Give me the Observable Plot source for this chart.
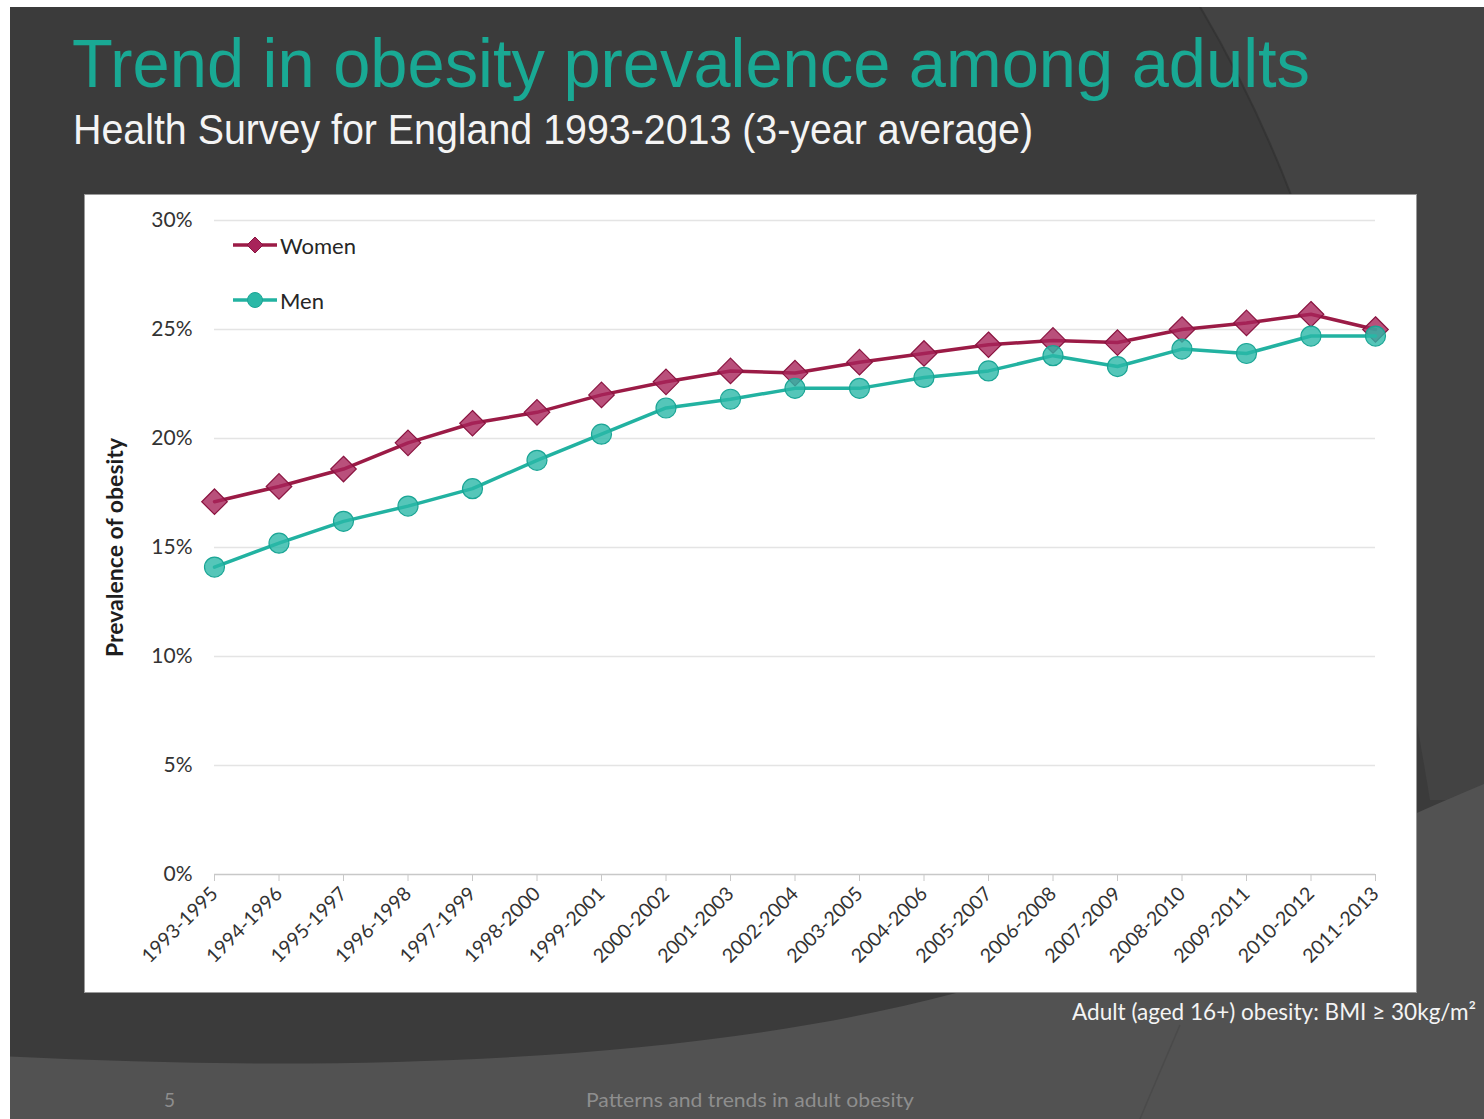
<!DOCTYPE html>
<html>
<head>
<meta charset="utf-8">
<script src="https://cdn.jsdelivr.net/npm/d3@7"></script>
<script src="https://cdn.jsdelivr.net/npm/@observablehq/plot@0.6"></script>
<style>
  html, body { margin: 0; padding: 0; background: #ffffff; width: 1484px; height: 1119px; overflow: hidden; }
  #slide { position: absolute; left: 10px; top: 7px; width: 1474px; height: 1112px; background: #3b3b3b; overflow: hidden; }
  #bg { position: absolute; left: -10px; top: -7px; width: 1484px; height: 1119px; }
  .fit { position: absolute; white-space: nowrap; display: inline-block; transform-origin: 0 0; line-height: 1; }
  #title { left: 62px; top: 22px; font-family: "Liberation Sans", Arial, sans-serif; font-size: 68px; color: #19a994; }
  #subtitle { left: 63px; top: 101px; font-family: "Liberation Sans", Arial, sans-serif; font-size: 43px; color: #f4f4f4; }
  #chartbox { position: absolute; left: 75px; top: 188px; width: 1331px; height: 797px; background: #fff; box-shadow: 0 0 0 1px #9a9a9a; }
  #legend { position: absolute; left: 148px; top: 37px; font-family: Lato, sans-serif; font-size: 22px; color: #262626; }
  .lg { display: flex; align-items: center; height: 26px; margin-bottom: 29px; }
  .lg svg { display: block; margin-right: 3px; }
  #caption { left: 1062px; top: 992px; font-family: Lato, sans-serif; font-size: 24px; color: #f4f4f4; }
  #pagenum { left: 154px; top: 1083px; font-family: Lato, sans-serif; font-size: 19px; color: #8e8e8e; }
  #footer { left: 576px; top: 1083px; font-family: Lato, sans-serif; font-size: 19px; color: #8e8e8e; }
</style>
</head>
<body>
<div id="slide">
  <svg id="bg" viewBox="0 0 1484 1119">
    <path d="M1196,0 C1250,90 1300,200 1335,330 C1370,470 1400,620 1430,800 L1484,800 L1484,0 Z" fill="#434343"/>
    <path d="M1196,0 C1250,90 1300,200 1335,330" fill="none" stroke="#2e2e2e" stroke-width="2" opacity="0.6"/>
    <path d="M0,1056 C350,1074 700,1062 960,992 S1300,860 1484,784 L1484,1119 L0,1119 Z" fill="#525252"/>
    <path d="M1180,1025 C1165,1060 1152,1090 1140,1119" fill="none" stroke="#4a4a4a" stroke-width="1.5"/>
  </svg>
  <div id="title" class="fit" data-w="1238">Trend in obesity prevalence among adults</div>
  <div id="subtitle" class="fit" data-w="960">Health Survey for England 1993-2013 (3-year average)</div>
  <div id="chartbox">
    <div id="chart"></div>
    <div id="legend"></div>
  </div>
  <div id="caption" class="fit" data-w="404">Adult (aged 16+) obesity: BMI ≥ 30kg/m²</div>
  <div id="pagenum" class="fit">5</div>
  <div id="footer" class="fit" data-w="328">Patterns and trends in adult obesity</div>
</div>
<script>
// ---- data ----
const periods = ["1993-1995","1994-1996","1995-1997","1996-1998","1997-1999","1998-2000","1999-2001","2000-2002","2001-2003","2002-2004","2003-2005","2004-2006","2005-2007","2006-2008","2007-2009","2008-2010","2009-2011","2010-2012","2011-2013"];
const women = [17.1, 17.8, 18.6, 19.8, 20.7, 21.2, 22.0, 22.6, 23.1, 23.0, 23.5, 23.9, 24.3, 24.5, 24.4, 25.0, 25.3, 25.7, 25.0];
const men   = [14.1, 15.2, 16.2, 16.9, 17.7, 19.0, 20.2, 21.4, 21.8, 22.3, 22.3, 22.8, 23.1, 23.8, 23.3, 24.1, 23.9, 24.7, 24.7];
const yTicks = [0, 5, 10, 15, 20, 25, 30];
const seriesNames = ["Women", "Men"];
const yLabel = "Prevalence of obesity";

const colors = { Women: { line: "#9b1b46", fill: "#a8245a", edge: "#8a1440" },
                 Men:   { line: "#22b2a1", fill: "#2bb8a7", edge: "#1aa595" } };

const womenRows = periods.map((p, i) => ({ period: p, value: women[i] }));
const menRows = periods.map((p, i) => ({ period: p, value: men[i] }));

const chart = Plot.plot({
  width: 1331,
  height: 797,
  marginLeft: 129,
  marginRight: 41,
  marginTop: 25,
  marginBottom: 118,
  style: { background: "#ffffff", fontFamily: "Lato, sans-serif", overflow: "visible" },
  x: { type: "point", domain: periods, padding: 0, round: false, label: null },
  y: { domain: [0, 30], label: null },
  marks: [
    Plot.gridY(yTicks.filter(t => t > 0), { stroke: "#e4e4e4", strokeOpacity: 1, strokeWidth: 1.5 }),
    Plot.ruleY([0], { stroke: "#c8c8c8", strokeWidth: 1.5 }),
    Plot.axisY(yTicks, { tickSize: 0, tickPadding: 22, tickFormat: d => d + "%", fontSize: 21, fill: "#333333", label: null }),
    Plot.axisX({ tickSize: 7, stroke: "#c8c8c8", strokeOpacity: 1, tickRotate: -45, tickPadding: 9, fontSize: 19.5, fill: "#333333", label: null }),
    Plot.text([yLabel], { text: d => d, frameAnchor: "left", textAnchor: "middle", rotate: -90, dx: -99, fontWeight: "bold", fontSize: 23, fill: "#1e1e1e" }),
    Plot.line(womenRows, { x: "period", y: "value", stroke: colors.Women.line, strokeWidth: 3.5 }),
    Plot.dot(womenRows, { x: "period", y: "value", symbol: "diamond2", r: 11.5, fill: colors.Women.fill, fillOpacity: 0.8, stroke: colors.Women.edge, strokeWidth: 1.2 }),
    Plot.line(menRows, { x: "period", y: "value", stroke: colors.Men.line, strokeWidth: 3.5 }),
    Plot.dot(menRows, { x: "period", y: "value", symbol: "circle", r: 10, fill: colors.Men.fill, fillOpacity: 0.8, stroke: colors.Men.edge, strokeWidth: 1.2 })
  ]
});
document.getElementById("chart").appendChild(chart);

// legend
const legend = document.getElementById("legend");
seriesNames.forEach(name => {
  const row = document.createElement("div");
  row.className = "lg";
  const c = colors[name];
  const marker = name === "Women"
    ? `<path d="M22,5 L30,13 L22,21 L14,13 Z" fill="${c.fill}" stroke="${c.edge}" stroke-width="1"/>`
    : `<circle cx="22" cy="13" r="7.5" fill="${c.fill}" stroke="${c.edge}" stroke-width="1"/>`;
  row.innerHTML = `<svg width="44" height="26"><line x1="0" y1="13" x2="44" y2="13" stroke="${c.line}" stroke-width="3.5"/>${marker}</svg><span>${name}</span>`;
  legend.appendChild(row);
});

// horizontal fitting of slide texts
function fit() {
  document.querySelectorAll(".fit[data-w]").forEach(el => {
    el.style.transform = "none";
    const w = el.getBoundingClientRect().width;
    const target = +el.dataset.w;
    if (w > 0) el.style.transform = `scaleX(${target / w})`;
  });
}
fit();
if (document.fonts && document.fonts.ready) document.fonts.ready.then(fit);
</script>
</body>
</html>
